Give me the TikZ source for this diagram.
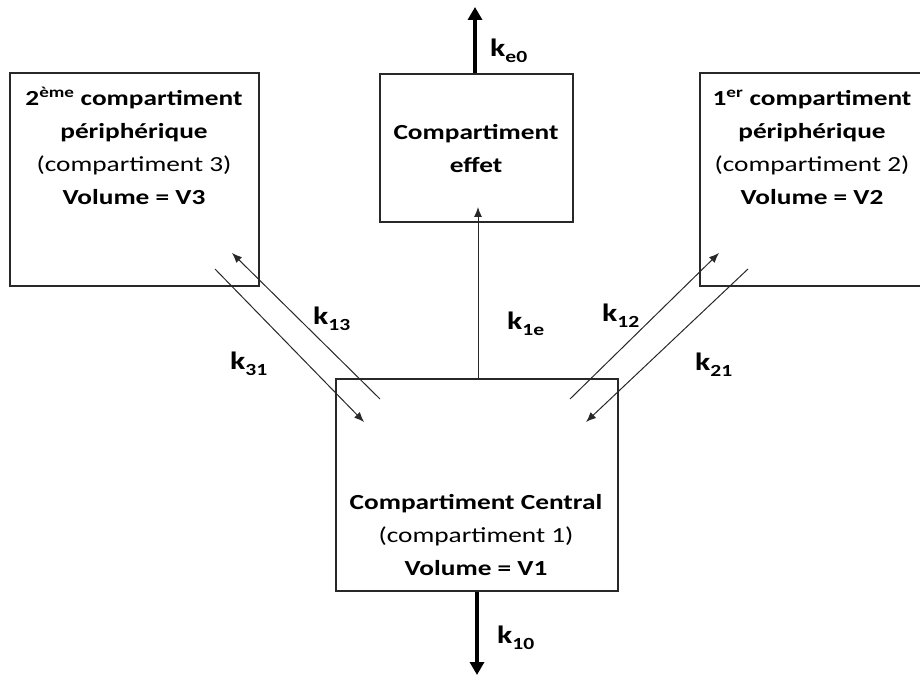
\documentclass[tikz,border=0pt]{standalone}
\usepackage{fontspec}
\setmainfont{Carlito}[FakeStretch=1.27]
\usetikzlibrary{arrows.meta}

\definecolor{linegray}{RGB}{40,40,40}
\newcommand{\rate}[1]{k\raisebox{-6pt}{\fontsize{17}{17}\selectfont #1}}

\tikzset{
  compbox/.style={draw=linegray, line width=1.2pt, inner sep=0pt},
  comptext/.style={anchor=north, inner sep=0pt, align=center, font=\fontsize{21.5}{33}\selectfont},
  ratelabel/.style={anchor=base west, inner sep=0pt, font=\bfseries\fontsize{25}{30}\selectfont},
  flow/.style={linegray, line width=1pt, -{Latex[length=10pt,width=8pt]}},
  elim/.style={black, line width=4.5pt, -{Triangle[length=13pt,width=14pt]}},
}

\begin{document}
\begin{tikzpicture}[x=1pt,y=1pt]
\path[use as bounding box, clip] (0,0) rectangle (920,677);
%% Compartments
\node[compbox, minimum width=249pt, minimum height=213pt] (periph3) at (134.5,497.5) {};
\node[compbox, minimum width=193pt, minimum height=148pt] (effet) at (476.5,529) {};
\node[compbox, minimum width=225pt, minimum height=213pt] (periph2) at (812.5,497.5) {};
\node[compbox, minimum width=282pt, minimum height=212pt] (central) at (477,192) {};
%% Texts
\node[comptext] (periph3txt) at (134,595) {\strut\textbf{2\textsuperscript{ème} compartiment}\\ \textbf{périphérique}\\ (compartiment 3)\\ \textbf{Volume = V3}};
\node[comptext] (effettxt) at (476,561) {\strut\textbf{Compartiment}\\ \textbf{effet}};
\node[comptext] (periph2txt) at (812,595) {\strut\textbf{1\textsuperscript{er} compartiment}\\ \textbf{périphérique}\\ (compartiment 2)\\ \textbf{Volume = V2}};
\node[comptext] (centraltxt) at (476,191) {\strut\textbf{Compartiment Central}\\ (compartiment 1)\\ \textbf{Volume = V1}};
%% Free ends of the exchanges
\coordinate (k13from) at (380,278);
\coordinate (k13to) at (232,424);
\coordinate (k31from) at (215,408);
\coordinate (k31to) at (364,255);
\coordinate (k12from) at (570,278);
\coordinate (k12to) at (719,424);
\coordinate (k21from) at (748,408);
\coordinate (k21to) at (586,255);
\coordinate (k1eto) at (478,470);
\coordinate (ke0to) at (475,670);
\coordinate (k10to) at (477,2);
%% Exchanges
\draw[flow] (k13from) -- (k13to);
\draw[flow] (k31from) -- (k31to);
\draw[flow] (k12from) -- (k12to);
\draw[flow] (k21from) -- (k21to);
\draw[flow] ([xshift=1pt]central.north) -- (k1eto);
%% Elimination
\draw[elim] ([xshift=-1.5pt]effet.north) -- (ke0to);
\draw[elim] (central.south) -- (k10to);
%% Rate constants
\node[ratelabel] (k13) at (313,352) {\rate{13}};
\node[ratelabel] (k31) at (230,307) {\rate{31}};
\node[ratelabel] (k12) at (602,355) {\rate{12}};
\node[ratelabel] (k21) at (695,306) {\rate{21}};
\node[ratelabel] (k1e) at (507,347) {\rate{1e}};
\node[ratelabel] (ke0) at (490,620) {\rate{e0}};
\node[ratelabel] (k10) at (497,34) {\rate{10}};
\end{tikzpicture}
\end{document}
